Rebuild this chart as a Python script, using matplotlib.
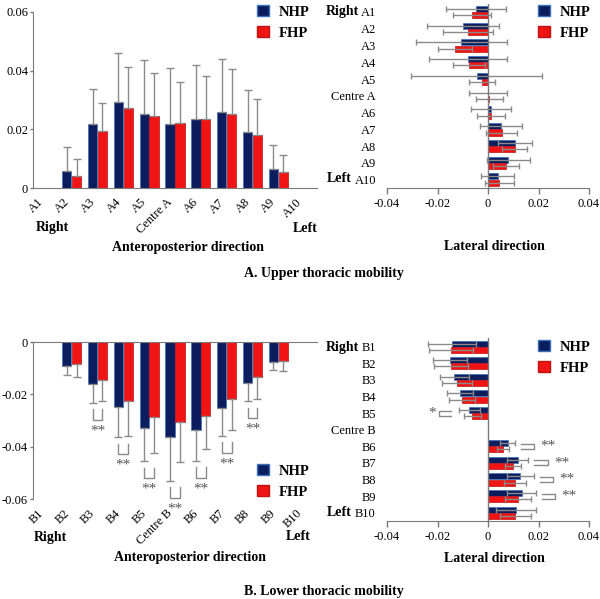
import numpy as np
import matplotlib
matplotlib.use("Agg")
import matplotlib.pyplot as plt
from matplotlib.patches import Patch

plt.rcParams['font.family'] = ['Liberation Serif', 'DejaVu Serif']
plt.rcParams['font.size'] = 9
plt.rcParams['axes.unicode_minus'] = False

# --- COLOURS ---
NHP_COLOR = "#0b1d5c"
NHP_EDGE = "#3d6fc0"
FHP_COLOR = "#f01414"
FHP_EDGE = "#c01010"
ERR_COLOR = "#8a8a8a"
AXIS_COLOR = "#7a7a7a"

# --- DATA ---
upper_labels = ['A1', 'A2', 'A3', 'A4', 'A5', 'Centre A', 'A6', 'A7', 'A8', 'A9', 'A10']
lower_labels = ['B1', 'B2', 'B3', 'B4', 'B5', 'Centre B', 'B6', 'B7', 'B8', 'B9', 'B10']

# upper thoracic, anteroposterior
upper_ap_nhp = [0, 0.0057, 0.0219, 0.0294, 0.0251, 0.0218, 0.0235, 0.0260, 0.0190, 0.0065, 0]
upper_ap_nhp_sd = [0, 0.0082, 0.0118, 0.0165, 0.0185, 0.0190, 0.0186, 0.0180, 0.0143, 0.0080, 0]
upper_ap_fhp = [0, 0.0042, 0.0194, 0.0273, 0.0245, 0.0223, 0.0234, 0.0252, 0.0181, 0.0053, 0]
upper_ap_fhp_sd = [0, 0.0057, 0.0095, 0.0139, 0.0146, 0.0138, 0.0147, 0.0154, 0.0121, 0.0059, 0]

# upper thoracic, lateral
upper_lat_nhp = [-0.0047, -0.0100, -0.0105, -0.0080, -0.0045, 0.0001, 0.0012, 0.0052, 0.0107, 0.0080, 0.0039]
upper_lat_nhp_sd = [0.0118, 0.0143, 0.0182, 0.0155, 0.0260, 0.0075, 0.0079, 0.0082, 0.0066, 0.0085, 0.0065]
upper_lat_fhp = [-0.0063, -0.0078, -0.0131, -0.0076, -0.0024, 0.0005, 0.0011, 0.0054, 0.0105, 0.0072, 0.0045]
upper_lat_fhp_sd = [0.0074, 0.0099, 0.0066, 0.0063, 0.0050, 0.0054, 0.0056, 0.0062, 0.0049, 0.0051, 0.0056]

# lower thoracic, anteroposterior
lower_ap_nhp = [0, -0.0092, -0.0162, -0.0248, -0.0327, -0.0364, -0.0335, -0.0251, -0.0155, -0.0076, 0]
lower_ap_nhp_sd = [0, 0.0034, 0.0071, 0.0116, 0.0129, 0.0167, 0.0120, 0.0108, 0.0072, 0.0031, 0]
lower_ap_fhp = [0, -0.0083, -0.0145, -0.0225, -0.0285, -0.0307, -0.0284, -0.0219, -0.0135, -0.0071, 0]
lower_ap_fhp_sd = [0, 0.0052, 0.0082, 0.0134, 0.0139, 0.0150, 0.0125, 0.0119, 0.0084, 0.0041, 0]
lower_ap_sig = {2: '**', 3: '**', 4: '**', 5: '**', 6: '**', 7: '**', 8: '**'}

# lower thoracic, lateral
lower_lat_nhp = [-0.0142, -0.0152, -0.0133, -0.0110, -0.0074, 0, 0.0078, 0.0117, 0.0128, 0.0133, 0.0111]
lower_lat_nhp_sd = [0.0096, 0.0067, 0.0057, 0.0051, 0.0041, 0, 0.0029, 0.0042, 0.0054, 0.0057, 0.0078]
lower_lat_fhp = [-0.0146, -0.0148, -0.0123, -0.0103, -0.0062, 0, 0.0059, 0.0099, 0.0107, 0.0119, 0.0108]
lower_lat_fhp_sd = [0.0086, 0.0067, 0.0058, 0.0051, 0.0035, 0, 0.0025, 0.0032, 0.0045, 0.0051, 0.0062]
lower_lat_sig = {4: '*', 6: '**', 7: '**', 8: '**', 9: '**'}

W = 600
H = 599
BAR = 0.36
OFF = 0.19

fig = plt.figure(figsize=(6, 5.99), dpi=100)


def fx(px):
    return px / W


def fy(py):
    return 1 - py / H


def legend(ax, x, y):
    handles = [Patch(facecolor=NHP_COLOR, edgecolor=NHP_EDGE, label='NHP'),
               Patch(facecolor=FHP_COLOR, edgecolor=FHP_EDGE, label='FHP')]
    ax.legend(handles=handles, loc='upper left', bbox_to_anchor=(fx(x), fy(y)),
              bbox_transform=fig.transFigure, frameon=False, borderpad=0,
              handlelength=0.8, handleheight=0.8, handletextpad=0.7,
              labelspacing=0.5, borderaxespad=0,
              prop={'weight': 'bold', 'size': 10.5})


def vertical_panel(rect, labels, nhp, nhp_sd, fhp, fhp_sd, ylim, yticks, negative):
    ax = fig.add_axes(rect)
    x = np.arange(len(labels))
    ax.bar(x - OFF, nhp, BAR, color=NHP_COLOR, edgecolor=NHP_EDGE, linewidth=0.5, zorder=2)
    ax.bar(x + OFF, fhp, BAR, color=FHP_COLOR, edgecolor=FHP_EDGE, linewidth=0.5, zorder=2)
    for off, vals, sd in [(-OFF, nhp, nhp_sd), (OFF, fhp, fhp_sd)]:
        sd = np.array(sd)
        m = sd > 0
        zero = np.zeros(m.sum())
        yerr = [sd[m], zero] if negative else [zero, sd[m]]
        ax.errorbar(x[m] + off, np.array(vals)[m], yerr=yerr, fmt='none',
                    ecolor=ERR_COLOR, elinewidth=1, capsize=3, capthick=1, zorder=3)
    ax.set_xlim(-0.5, len(labels) - 0.5)
    ax.set_ylim(*ylim)
    ax.set_yticks(yticks)
    ax.set_yticklabels(['0' if t == 0 else f'{t:g}' for t in yticks])
    ax.set_xticks(x)
    ax.set_xticklabels(labels, rotation=45, ha='right', va='top')
    ax.tick_params(axis='x', length=0, pad=6)
    ax.tick_params(axis='y', length=2, color=AXIS_COLOR, width=1, pad=1.5)
    ax.spines['right'].set_visible(False)
    if negative:
        ax.spines['bottom'].set_visible(False)
        ax.spines['top'].set_color(AXIS_COLOR)
    else:
        ax.spines['top'].set_visible(False)
        ax.spines['bottom'].set_color(AXIS_COLOR)
    ax.spines['left'].set_color(AXIS_COLOR)
    ax.patch.set_visible(False)
    return ax


def horizontal_panel(rect, labels, nhp, nhp_sd, fhp, fhp_sd):
    ax = fig.add_axes(rect)
    y = np.arange(len(labels))
    ax.barh(y - OFF, nhp, BAR, color=NHP_COLOR, edgecolor=NHP_EDGE, linewidth=0.5, zorder=2)
    ax.barh(y + OFF, fhp, BAR, color=FHP_COLOR, edgecolor=FHP_EDGE, linewidth=0.5, zorder=2)
    for off, vals, sd in [(-OFF, nhp, nhp_sd), (OFF, fhp, fhp_sd)]:
        sd = np.array(sd)
        m = sd > 0
        ax.errorbar(np.array(vals)[m], y[m] + off, xerr=sd[m], fmt='none',
                    ecolor=ERR_COLOR, elinewidth=1, capsize=2.5, capthick=1, zorder=3)
    ax.set_ylim(len(labels) - 0.5, -0.5)
    ax.set_xlim(-0.04, 0.04)
    ax.set_xticks([-0.04, -0.02, 0, 0.02, 0.04])
    ax.set_xticklabels(['-0.04', '-0.02', '0', '0.02', '0.04'])
    ax.set_yticks(y)
    ax.set_yticklabels(labels)
    ax.tick_params(axis='y', length=0, pad=8)
    ax.tick_params(axis='x', length=4, color=AXIS_COLOR, width=1)
    for s in ['left', 'right', 'top']:
        ax.spines[s].set_visible(False)
    ax.spines['bottom'].set_color(AXIS_COLOR)
    ax.axvline(0, color=AXIS_COLOR, linewidth=1, zorder=4)
    ax.patch.set_visible(False)
    return ax


# --- A. Upper thoracic ---
ax1 = vertical_panel([fx(33), fy(188), fx(317) - fx(33), fy(12) - fy(188)], upper_labels,
                     upper_ap_nhp, upper_ap_nhp_sd, upper_ap_fhp, upper_ap_fhp_sd,
                     (0, 0.06), [0, 0.02, 0.04, 0.06], negative=False)
legend(ax1, 257, 5)

ax2 = horizontal_panel([fx(387), fy(188), fx(589) - fx(387), fy(3.6) - fy(188)], upper_labels,
                       upper_lat_nhp, upper_lat_nhp_sd, upper_lat_fhp, upper_lat_fhp_sd)
legend(ax2, 538, 5)

# --- B. Lower thoracic ---
ax3 = vertical_panel([fx(33), fy(499), fx(317) - fx(33), fy(342) - fy(499)], lower_labels,
                     lower_ap_nhp, lower_ap_nhp_sd, lower_ap_fhp, lower_ap_fhp_sd,
                     (-0.06, 0), [-0.06, -0.04, -0.02, 0], negative=True)
legend(ax3, 257, 464)

# brackets under the anteroposterior pairs
for i, mark in lower_ap_sig.items():
    low = min(lower_ap_nhp[i] - lower_ap_nhp_sd[i], lower_ap_fhp[i] - lower_ap_fhp_sd[i])
    top = low - 0.0024
    bot = top - 0.0040
    ax3.plot([i - OFF, i - OFF, i + OFF, i + OFF], [top, bot, bot, top],
             color=ERR_COLOR, linewidth=1, clip_on=False)
    ax3.text(i, bot - 0.0042, mark, ha='center', va='center', fontsize=11,
             color='#555555', clip_on=False)

ax4 = horizontal_panel([fx(387), fy(521), fx(589) - fx(387), fy(338.4) - fy(521)], lower_labels,
                       lower_lat_nhp, lower_lat_nhp_sd, lower_lat_fhp, lower_lat_fhp_sd)
legend(ax4, 538, 340)

# brackets beside the lateral pairs
for i, mark in lower_lat_sig.items():
    if lower_lat_nhp[i] > 0:
        start = max(lower_lat_nhp[i] + lower_lat_nhp_sd[i], lower_lat_fhp[i] + lower_lat_fhp_sd[i]) + 0.0025
        end = start + 0.0052
        star = end + 0.0055
    else:
        start = min(lower_lat_nhp[i] - lower_lat_nhp_sd[i], lower_lat_fhp[i] - lower_lat_fhp_sd[i]) - 0.0032
        end = start - 0.0048
        star = end - 0.0028
    ax4.plot([start, end, end, start], [i - 0.15, i - 0.15, i + 0.15, i + 0.15],
             color=ERR_COLOR, linewidth=1, clip_on=False)
    ax4.text(star, i, mark, ha='center', va='center', fontsize=11, color='#555555')

# --- side / axis titles ---
bold = {'weight': 'bold', 'size': 10}
fig.text(fx(52), fy(228), 'Right', ha='center', va='center', **bold)
fig.text(fx(305), fy(228), 'Left', ha='center', va='center', **bold)
fig.text(fx(188), fy(247), 'Anteroposterior direction', ha='center', va='center', **bold)
fig.text(fx(494), fy(247), 'Lateral direction', ha='center', va='center', **bold)
fig.text(fx(342), fy(12), 'Right', ha='center', va='center', **bold)
fig.text(fx(339), fy(179), 'Left', ha='center', va='center', **bold)
fig.text(fx(324), fy(273), 'A. Upper thoracic mobility', ha='center', va='center', **bold)

fig.text(fx(50), fy(537), 'Right', ha='center', va='center', **bold)
fig.text(fx(298), fy(537), 'Left', ha='center', va='center', **bold)
fig.text(fx(190), fy(558), 'Anteroposterior direction', ha='center', va='center', **bold)
fig.text(fx(494), fy(558), 'Lateral direction', ha='center', va='center', **bold)
fig.text(fx(342), fy(347), 'Right', ha='center', va='center', **bold)
fig.text(fx(339), fy(513), 'Left', ha='center', va='center', **bold)
fig.text(fx(324), fy(592), 'B. Lower thoracic mobility', ha='center', va='center', **bold)

fig.savefig('out.png', dpi=100)
